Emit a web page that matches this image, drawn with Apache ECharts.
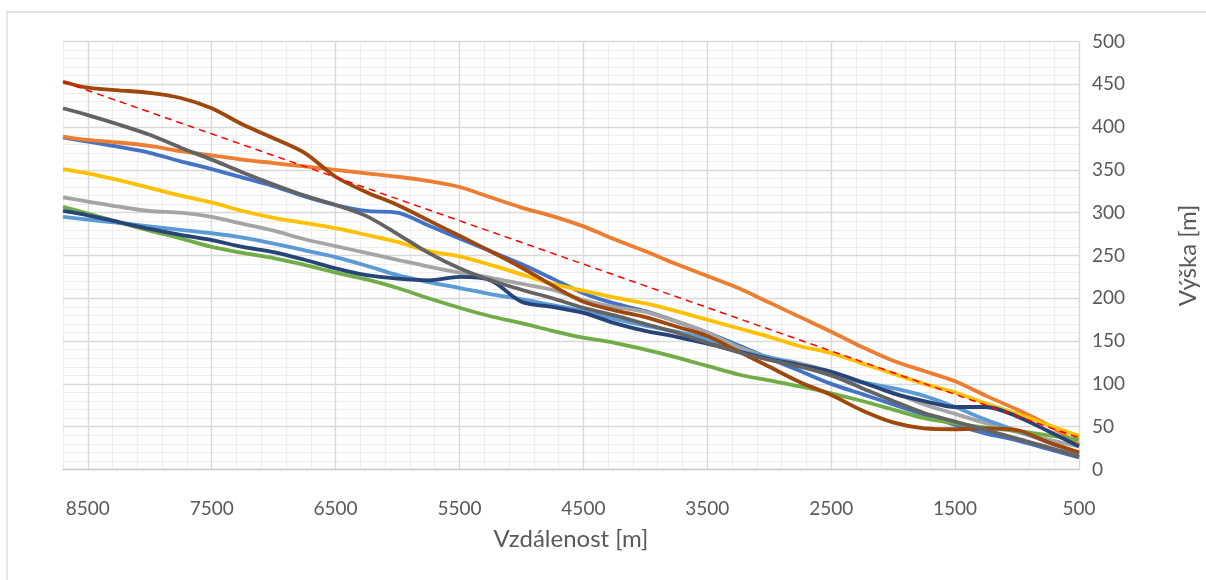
<!DOCTYPE html>
<html><head><meta charset="utf-8">
<script src="https://cdn.jsdelivr.net/npm/echarts@6/dist/echarts.min.js"></script>
<style>html,body{margin:0;padding:0;background:#fff}#c{width:1206px;height:580px}</style>
</head><body><div id="c"></div>
<script>
// distance along the profile [m]
const distances = [8700, 8500, 8250, 8000, 7750, 7500, 7250, 7000, 6750, 6500, 6250, 6000, 5750, 5500, 5250, 5000, 4750, 4500, 4250, 4000, 3750, 3500, 3250, 3000, 2750, 2500, 2250, 2000, 1750, 1500, 1250, 1000, 750, 500];
// heights [m]
const blue     = [388,383,377,370,360,351,341,331,319,309,302,300,285,270,255,240,223,206,194,185,173,160,145,130,115,100,88,76,64,52,42,34,24,14];
const orange   = [389,385,382,378,372,367,362,358,354,350,346,342,337,330,318,306,296,284,269,255,240,226,212,195,178,161,143,127,115,103,86,70,52,29];
const gray     = [318,313,307,302,300,295,287,279,269,261,253,245,237,230,224,217,210,198,190,184,173,160,143,131,124,114,102,90,76,65,54,44,35,27];
const yellow   = [351,346,338,329,320,312,302,294,288,282,274,266,255,249,239,228,217,209,201,194,185,175,165,155,144,136,124,112,100,90,77,65,52,39];
const lightBlue= [295,292,288,284,280,276,271,264,256,248,238,227,219,212,205,199,192,185,176,168,161,152,139,131,122,110,102,95,86,73,58,45,32,18];
const green    = [307,299,289,279,270,260,253,247,239,230,222,212,200,189,179,171,162,154,148,140,131,121,111,104,97,89,80,70,60,54,49,45,40,35];
const darkBlue = [302,297,289,281,274,268,260,254,245,235,227,223,221,225,221,196,190,183,171,162,155,147,138,129,122,114,102,89,80,73,73,62,45,27];
const brown    = [453,446,443,440,434,422,403,387,370,342,324,309,291,273,255,236,215,196,186,178,167,156,138,120,102,87,69,55,48,47,48,46,32,20];
const darkGray = [422,414,403,391,376,362,347,333,320,309,296,275,253,235,221,210,200,189,180,170,160,148,137,128,120,110,95,80,66,56,46,36,26,15];
// straight reference line
const trendDist = [8700, 500];
const trendVal  = [453, 37];

const xTitle = 'Vzdálenost [m]';
const yTitle = 'Výška [m]';

const profiles = [
  ['1', blue, '#4472C4'],
  ['2', orange, '#ED7D31'],
  ['3', gray, '#A5A5A5'],
  ['4', yellow, '#FFC000'],
  ['5', lightBlue, '#5B9BD5'],
  ['6', green, '#70AD47'],
  ['7', darkBlue, '#264478'],
  ['8', brown, '#9E480E'],
  ['9', darkGray, '#636363']
];

const font = 'Lato, "Liberation Sans", sans-serif';
const series = profiles.map(p => ({
  name: p[0], type: 'line', xAxisIndex: 1, yAxisIndex: 1,
  data: distances.map((d, i) => [d, p[1][i]]),
  smooth: 0.3, symbol: 'none',
  lineStyle: {color: p[2], width: 3.8}, itemStyle: {color: p[2]}, z: 3
}));
series.push({
  name: 'trend', type: 'line', xAxisIndex: 1, yAxisIndex: 1,
  data: trendDist.map((d, i) => [d, trendVal[i]]),
  symbol: 'none', lineStyle: {color: '#FF0000', width: 1.5, type: [7, 5]}, z: 4
});

const chart = echarts.init(document.getElementById('c'));
chart.setOption({
  animation: false,
  backgroundColor: '#fff',
  graphic: [{type: 'rect', shape: {x: 7, y: 12, width: 1300, height: 700}, style: {fill: null, stroke: '#d9d9d9', lineWidth: 1.3}, silent: true}],
  grid: {left: 63, top: 41.5, width: 1016, height: 428, outerBoundsMode: 'none', containLabel: false},
  xAxis: [
    {type: 'value', position: 'bottom', min: 500, max: 8700, interval: 200, inverse: true, z: 0,
     axisLine: {show: false}, axisTick: {show: false}, axisLabel: {show: false},
     splitLine: {show: true, lineStyle: {color: '#eeeeee', width: 1.2}}},
    {type: 'value', position: 'bottom', min: 500, max: 8700, interval: 1000, inverse: true, z: 1,
     name: xTitle, nameLocation: 'middle', nameGap: 58,
     nameTextStyle: {color: '#595959', fontSize: 24, fontFamily: font},
     axisLine: {show: true, lineStyle: {color: '#c8c8c8', width: 1.3}},
     axisTick: {show: false},
     axisLabel: {color: '#595959', fontSize: 19, fontFamily: font, margin: 30, showMaxLabel: false, formatter: v => String(v)},
     splitLine: {show: true, showMaxLine: false, lineStyle: {color: '#d9d9d9', width: 1.3}}}
  ],
  yAxis: [
    {type: 'value', position: 'right', min: 0, max: 500, interval: 10, z: 0,
     axisLine: {show: false}, axisTick: {show: false}, axisLabel: {show: false},
     splitLine: {show: true, lineStyle: {color: '#eeeeee', width: 1.2}}},
    {type: 'value', position: 'right', min: 0, max: 500, interval: 50, z: 1,
     name: yTitle, nameLocation: 'middle', nameGap: 97, nameRotate: 90,
     nameTextStyle: {color: '#595959', fontSize: 24, fontFamily: font},
     axisLine: {show: false}, axisTick: {show: false},
     axisLabel: {color: '#595959', fontSize: 19, fontFamily: font, margin: 13},
     splitLine: {show: true, showMinLine: false, lineStyle: {color: '#d9d9d9', width: 1.3}}}
  ],
  series: series
});
</script></body></html>
